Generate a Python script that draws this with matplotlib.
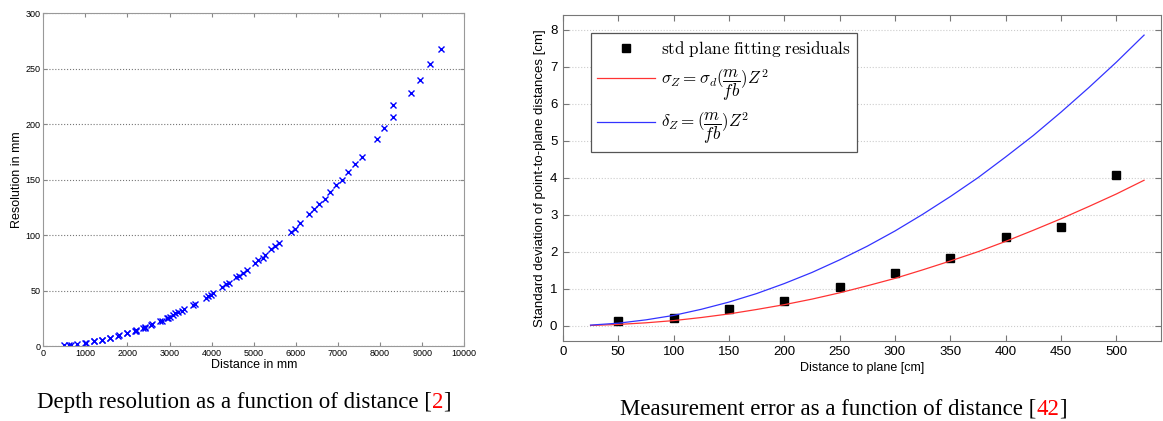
import matplotlib
matplotlib.use("Agg")
import matplotlib.pyplot as plt
from matplotlib.text import Annotation

plt.rcParams['mathtext.fontset'] = 'cm'
plt.rcParams['font.family'] = ['Liberation Sans', 'DejaVu Sans']

# left chart: depth resolution vs distance
dist_mm = [500, 600, 650, 810, 1000, 1010, 1200, 1210, 1390, 1400, 1580, 1590,
           1780, 1790, 1980, 1990, 2170, 2200, 2210, 2370, 2410, 2420, 2570, 2590,
           2770, 2810, 2930, 2970, 3000, 3090, 3140, 3210, 3290, 3350, 3550, 3600,
           3860, 3920, 3975, 4040, 4240, 4340, 4420, 4580, 4660, 4750, 4850, 5030,
           5110, 5210, 5270, 5420, 5500, 5610, 5880, 5990, 6100, 6320, 6430, 6560,
           6690, 6810, 6950, 7090, 7250, 7400, 7580, 7920, 8100, 8300, 8300, 8730,
           8950, 9190, 9440]
res_mm = [0.9, 1.2, 1.3, 1.5, 2.7, 2.4, 4.2, 4.5, 5.4, 5.8, 7.2, 7.6,
          9.3, 9.9, 11.7, 12.0, 13.8, 14.4, 13.9, 16.5, 16.5, 17.0, 19.2, 19.6,
          22.5, 22.8, 25.0, 25.5, 25.8, 28.0, 29.5, 30.4, 31.9, 33.1, 37.3, 37.9,
          43.6, 45.1, 46.3, 47.5, 53.5, 55.6, 57.1, 62.2, 63.4, 66.1, 68.2, 75.1,
          77.3, 79.7, 82.1, 87.2, 90.5, 93.2, 103.1, 105.8, 111.2, 118.7, 123.8, 128.1,
          132.9, 138.9, 144.9, 150.0, 156.9, 164.1, 170.7, 187.0, 196.9, 206.8, 217.0, 228.2,
          240.2, 254.0, 267.8]

# right chart: measurement error vs distance to plane
plane_cm = [50, 100, 150, 200, 250, 300, 350, 400, 450, 500]
std_resid = [0.13, 0.22, 0.44, 0.68, 1.05, 1.43, 1.83, 2.40, 2.68, 4.06]

curve_z = [25, 50, 75, 100, 125, 150, 175, 200, 225, 250, 275, 300, 325,
           350, 375, 400, 425, 450, 475, 500, 525]
sigma_z = [0.009, 0.036, 0.08, 0.14, 0.223, 0.32, 0.44, 0.57, 0.72, 0.89, 1.08, 1.28, 1.51,
           1.75, 2.0, 2.28, 2.58, 2.89, 3.22, 3.56, 3.93]
delta_z = [0.018, 0.07, 0.16, 0.28, 0.445, 0.64, 0.87, 1.14, 1.44, 1.78, 2.15, 2.56, 3.01,
           3.49, 4.0, 4.56, 5.14, 5.77, 6.43, 7.12, 7.85]

fig = plt.figure(figsize=(11.63, 4.21), dpi=100)

# ---- left
ax1 = fig.add_axes([0.0372, 0.178, 0.362, 0.790])
ax1.plot(dist_mm, res_mm, 'x', color='#0000ff', ms=3.8, mew=1.0)
ax1.set_xlim(0, 10000)
ax1.set_ylim(0, 300)
ax1.set_xticks(range(0, 10001, 1000))
ax1.set_yticks(range(0, 301, 50))
ax1.yaxis.grid(True, linestyle=':', color='#777777', linewidth=0.8)
ax1.tick_params(direction='in', top=True, right=True, labelsize=6.5, length=3,
                color='#888888', pad=2)
for s in ax1.spines.values():
    s.set_color('#999999')
ax1.set_xlabel('Distance in mm', fontsize=9, labelpad=1)
ax1.set_ylabel('Resolution in mm', fontsize=9, labelpad=2)

# ---- right
ax2 = fig.add_axes([0.484, 0.191, 0.514, 0.774])
ax2.plot(plane_cm, std_resid, 's', color='black', ms=5.5,
         label=r'$\mathrm{std\ plane\ fitting\ residuals}$')
ax2.plot(curve_z, sigma_z, '-', color='#ff3333', lw=0.9,
         label=r'$\sigma_Z = \sigma_d(\dfrac{m}{fb})Z^2$')
ax2.plot(curve_z, delta_z, '-', color='#3333ff', lw=0.9,
         label=r'$\delta_Z = (\dfrac{m}{fb})Z^2$')
ax2.set_xlim(0, 540)
ax2.set_ylim(-0.4, 8.4)
ax2.set_xticks(range(0, 501, 50))
ax2.set_yticks(range(0, 9))
ax2.yaxis.grid(True, linestyle=':', color='#cccccc', linewidth=0.8)
ax2.tick_params(direction='in', top=True, right=True, labelsize=9.5, length=4,
                color='#777777', pad=4)
for s in ax2.spines.values():
    s.set_color('#777777')
ax2.set_xlabel('Distance to plane [cm]', fontsize=9, labelpad=3)
ax2.set_ylabel('Standard deviation of point-to-plane distances [cm]', fontsize=9.5,
               labelpad=3)
leg = ax2.legend(loc='upper left', bbox_to_anchor=(0.047, 0.944), borderaxespad=0,
                 fontsize=12.3, handlelength=3.4, handletextpad=0.35, labelspacing=0.5,
                 fancybox=False, framealpha=1, borderpad=0.35)
leg.get_frame().set_edgecolor('#555555')
leg.get_frame().set_linewidth(0.9)

# ---- captions
cap_font = ['Liberation Serif', 'DejaVu Serif']
cap_size = 16.5


def caption(x, y, text, ref):
    t = fig.text(x, y, text + ' [', fontsize=cap_size, family=cap_font, va='baseline')
    r = fig.add_artist(Annotation(ref, xy=(1, 0), xycoords=t, fontsize=cap_size,
                                  family=cap_font, color='red', va='bottom'))
    fig.add_artist(Annotation(']', xy=(1, 0), xycoords=r, fontsize=cap_size,
                              family=cap_font, va='bottom'))


caption(37 / 1163, 0.031, 'Depth resolution as a function of distance', '2')
caption(620 / 1163, 0.015, 'Measurement error as a function of distance', '42')

fig.savefig('out.png', dpi=100)
